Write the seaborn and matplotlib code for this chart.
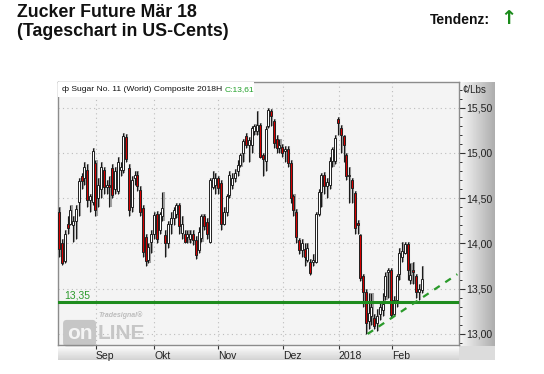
import numpy as np
import matplotlib
matplotlib.use("Agg")
import matplotlib.pyplot as plt
from matplotlib.patches import Rectangle
from matplotlib.ticker import MultipleLocator, FixedLocator
import seaborn as sns

# Tageskerzen Zucker Future Mär 18 (US-Cents/lb)
opens = [14.35, 14.00, 13.81, 14.22, 14.22, 14.20, 14.25, 14.46, 14.74, 14.72,
         14.81, 14.48, 14.46, 14.89, 14.50, 14.60, 14.81, 14.62, 14.65, 14.83,
         14.60, 14.58, 14.81, 14.81, 15.18, 14.83, 14.40, 14.72, 14.76, 14.59,
         14.39, 14.07, 13.82, 14.02, 14.11, 14.33, 14.15, 14.30, 14.09, 14.00,
         14.22, 14.28, 14.33, 14.43, 14.12, 14.11, 14.07, 14.05, 14.10, 14.04,
         13.93, 14.06, 14.30, 14.24, 14.02, 14.62, 14.65, 14.72, 14.67, 14.22,
         14.35, 14.54, 14.65, 14.72, 14.80, 14.87, 15.00, 15.19, 15.09, 15.09,
         15.24, 15.24, 15.31, 14.98, 14.91, 15.30, 15.46, 15.35, 15.15, 15.06,
         15.07, 15.02, 15.04, 14.89, 14.52, 14.35, 14.04, 13.93, 13.94, 13.82,
         13.80, 13.80, 13.80, 14.33, 14.57, 14.76, 14.63, 14.65, 14.91, 14.91,
         15.37, 15.28, 15.19, 14.98, 14.74, 14.70, 14.56, 14.23, 14.09, 13.64,
         13.46, 13.14, 13.20, 13.18, 13.12, 13.22, 13.27, 13.42, 13.68, 13.71,
         13.22, 13.38, 13.66, 13.85, 13.90, 13.99, 13.60, 13.71, 13.64, 13.46,
         13.49]
highs = [14.40, 14.05, 14.15, 14.30, 14.42, 14.30, 14.42, 14.72, 14.78, 14.90,
         14.88, 14.55, 15.05, 14.92, 14.72, 14.90, 14.84, 14.70, 14.75, 14.88,
         14.84, 14.95, 14.90, 15.22, 15.21, 14.88, 14.74, 14.80, 14.80, 14.63,
         14.42, 14.10, 14.00, 14.15, 14.35, 14.36, 14.35, 14.57, 14.15, 14.25,
         14.35, 14.40, 14.45, 14.45, 14.30, 14.15, 14.15, 14.15, 14.15, 14.08,
         14.18, 14.33, 14.32, 14.28, 14.72, 14.80, 14.78, 14.74, 14.70, 14.40,
         14.55, 14.80, 14.78, 14.82, 14.92, 15.00, 15.15, 15.22, 15.18, 15.30,
         15.32, 15.46, 15.33, 15.00, 15.30, 15.50, 15.49, 15.38, 15.20, 15.15,
         15.10, 15.08, 15.08, 14.92, 14.55, 14.38, 14.06, 14.05, 14.00, 14.00,
         13.83, 13.88, 14.35, 14.60, 14.78, 14.79, 14.72, 14.95, 15.07, 15.20,
         15.40, 15.31, 15.20, 15.00, 14.85, 14.72, 14.58, 14.26, 14.10, 13.66,
         13.50, 13.45, 13.45, 13.22, 13.28, 13.35, 13.45, 13.68, 13.73, 13.73,
         13.42, 13.66, 13.95, 14.02, 14.02, 14.02, 13.78, 13.80, 13.66, 13.55,
         13.75]
lows = [13.85, 13.76, 13.78, 14.10, 14.20, 14.02, 14.05, 14.30, 14.60, 14.65,
        14.40, 14.35, 14.42, 14.30, 14.40, 14.50, 14.55, 14.55, 14.40, 14.50,
        14.55, 14.55, 14.75, 14.78, 14.90, 14.30, 14.35, 14.65, 14.58, 14.30,
        13.85, 13.75, 13.78, 13.90, 14.05, 14.00, 14.10, 14.25, 13.85, 13.95,
        14.10, 14.20, 14.28, 14.10, 14.05, 14.00, 14.00, 14.00, 13.98, 13.83,
        13.90, 14.02, 14.15, 14.05, 14.00, 14.60, 14.55, 14.55, 14.15, 14.20,
        14.30, 14.50, 14.60, 14.68, 14.75, 14.85, 14.90, 15.05, 14.90, 15.00,
        15.20, 15.20, 14.94, 14.75, 14.80, 15.28, 15.30, 15.05, 15.00, 15.00,
        14.95, 14.90, 14.85, 14.45, 14.30, 14.00, 13.88, 13.85, 13.75, 13.80,
        13.65, 13.75, 13.78, 14.30, 14.40, 14.55, 14.50, 14.60, 14.85, 14.88,
        15.20, 15.00, 14.90, 14.70, 14.45, 14.45, 14.10, 14.10, 13.58, 13.30,
        13.00, 13.05, 13.10, 13.05, 13.03, 13.15, 13.20, 13.38, 13.40, 13.18,
        13.20, 13.30, 13.60, 13.80, 13.88, 13.60, 13.55, 13.55, 13.40, 13.38,
        13.45]
closes = [13.94, 13.78, 14.11, 14.17, 14.37, 14.25, 14.38, 14.69, 14.69, 14.85,
          14.48, 14.52, 15.02, 14.37, 14.65, 14.85, 14.62, 14.65, 14.62, 14.54,
          14.80, 14.90, 14.84, 15.19, 14.93, 14.37, 14.70, 14.76, 14.63, 14.35,
          13.91, 13.81, 13.96, 14.11, 14.31, 14.05, 14.33, 14.39, 14.00, 14.22,
          14.28, 14.37, 14.43, 14.19, 14.22, 14.02, 14.10, 14.10, 14.04, 13.87,
          14.13, 14.30, 14.19, 14.11, 14.70, 14.72, 14.72, 14.61, 14.22, 14.35,
          14.52, 14.76, 14.72, 14.78, 14.87, 14.98, 15.13, 15.09, 15.14, 15.28,
          15.30, 15.31, 14.96, 14.93, 15.26, 15.48, 15.41, 15.11, 15.06, 15.09,
          15.00, 15.04, 14.89, 14.50, 14.37, 14.07, 13.93, 14.00, 13.85, 13.95,
          13.67, 13.82, 14.33, 14.57, 14.76, 14.63, 14.68, 14.91, 15.04, 15.17,
          15.33, 15.20, 15.09, 14.74, 14.76, 14.61, 14.17, 14.20, 13.62, 13.46,
          13.12, 13.23, 13.30, 13.09, 13.20, 13.30, 13.33, 13.64, 13.71, 13.21,
          13.38, 13.64, 13.90, 13.92, 13.99, 13.71, 13.65, 13.68, 13.46, 13.50,
          13.61]

month_ticks = [13.2, 34.1, 57.1, 80.3, 100.2, 119.4]
month_labels = ["Sep", "Okt", "Nov", "Dez", "2018", "Feb"]
price_ticks = [13.0, 13.5, 14.0, 14.5, 15.0, 15.5]

support_level = 13.35
trend_x = [110.6, 142.8]
trend_y = [13.00, 13.66]

sns.set_theme(style="white")
plt.rcParams['font.family'] = ['Liberation Sans', 'DejaVu Sans']

W, H = 544, 374


def box(x0, y0, x1, y1):
    # Pixelrechteck -> Figure-Koordinaten
    return [x0 / W, 1 - y1 / H, (x1 - x0) / W, (y1 - y0) / H]


fig = plt.figure(figsize=(W / 100, H / 100), dpi=100)

# rechte Skalenleiste mit Verlauf
rp = fig.add_axes(box(459, 82, 495, 346), zorder=0)
rp.imshow(np.tile(np.linspace(0.97, 0.68, 64), (2, 1)), cmap='gray',
          vmin=0, vmax=1, aspect='auto')
rp.axis('off')

# untere Datumsleiste
bs = fig.add_axes(box(58, 346, 459, 360), zorder=0)
bs.imshow(np.linspace(0.99, 0.83, 32)[:, None], cmap='gray', vmin=0, vmax=1,
          aspect='auto')
bs.axis('off')

corner = fig.add_axes(box(459, 346, 495, 360), zorder=0)
corner.set_facecolor('#dcdcdc')
corner.set_xticks([])
corner.set_yticks([])
for s in corner.spines.values():
    s.set_visible(False)

ax = fig.add_axes(box(58, 82, 459, 345), zorder=2)
ax.set_facecolor('#f4f4f4')

o = np.array(opens)
c = np.array(closes)
x = np.arange(len(o))
up = c >= o

# Kerzen
ax.vlines(x + 0.4, lows, highs, color='#a0a0a0', lw=1.5, zorder=2)
ax.vlines(x, lows, highs, color='#1a1a1a', lw=0.8, zorder=3)
ax.bar(x, np.maximum(np.abs(c - o), 0.015), bottom=np.minimum(o, c),
       width=0.72, color=np.where(up, 'white', '#d40000'),
       edgecolor='#202020', linewidth=0.7, zorder=4)

ax.axhline(support_level, color='#1e8c1e', lw=2.2, zorder=5)
ax.text(1.7, support_level + 0.025, "13,35", color='#2a9a2a', fontsize=7.5,
        va='bottom', zorder=6)

sns.lineplot(x=trend_x, y=trend_y, ax=ax, color='#2a9a2a', lw=1.6,
             linestyle=(0, (3, 3)), zorder=5)

ax.set_xlim(-0.45, 143.4)
ax.set_ylim(12.878, 15.784)

ax.grid(True, which='major', linestyle=(0, (1, 3)), color='#bcbcbc', lw=0.8)
ax.set_axisbelow(True)

ax.yaxis.tick_right()
ax.yaxis.set_major_locator(FixedLocator(price_ticks))
ax.yaxis.set_minor_locator(MultipleLocator(0.1))
ax.set_yticklabels([f"{v:.2f}".replace('.', ',') for v in price_ticks])
ax.tick_params(axis='y', which='major', right=True, length=4, width=0.8,
               color='#333333', labelsize=7.6, pad=1.5, labelcolor='#222222')
ax.tick_params(axis='y', which='minor', right=True, length=2, width=0.7,
               color='#333333')

ax.set_xticks(month_ticks)
ax.set_xticklabels(month_labels, ha='left')
ax.tick_params(axis='x', bottom=True, length=3, width=0.8, color='#333333',
               labelsize=7.5, pad=1, labelcolor='#222222')
ax.set_xlabel('')
ax.set_ylabel('')

for side in ['left', 'top', 'right', 'bottom']:
    ax.spines[side].set_color('#8c8c8c')
    ax.spines[side].set_linewidth(1.0)

# Legendenzeile oben links
ax.add_patch(Rectangle((0.0, 1 - 0.057), 0.489, 0.057, transform=ax.transAxes,
                       facecolor='white', edgecolor='none', zorder=6))
t1 = ax.text(0.01, 1 - 0.028, "ф Sugar No. 11 (World) Composite 2018H ",
             transform=ax.transAxes, fontsize=6.1, va='center', zorder=7,
             color='#111111')
ax.annotate("C:13,61", xy=(1, 0.5), xycoords=t1, va='center', fontsize=6.1,
            color='#22a02a', zorder=7)

# Wasserzeichen
ax.text(0.10, 0.108, "Tradesignal®", transform=ax.transAxes, fontsize=5,
        color='#bdbdbd', style='italic', weight='bold', zorder=1)
ax.text(0.022, 0.045, "on", transform=ax.transAxes, fontsize=15,
        color='#f4f4f4', weight='bold', va='center', zorder=1,
        bbox=dict(boxstyle='round,pad=0.18', fc='#c6c6c6', ec='none'))
ax.text(0.1, 0.045, "LINE", transform=ax.transAxes, fontsize=15,
        color='#c6c6c6', weight='bold', va='center', zorder=1)

fig.text(462 / W, 1 - 90 / H, "¢/Lbs", fontsize=7, va='center',
         color='#222222')

fig.text(17 / W, 1 - 4 / H, "Zucker Future Mär 18\n(Tageschart in US-Cents)",
         fontsize=12.8, weight='bold', va='top', linespacing=1.15,
         color='#111111')
fig.text(430 / W, 1 - 20 / H, "Tendenz:", fontsize=10, weight='bold',
         va='center', color='#111111')
fig.text(500 / W, 1 - 19 / H, "↑", fontsize=14, weight='bold',
         va='center', color='#1a8a1a', family=['DejaVu Sans'])

fig.savefig("out.png", dpi=100)
